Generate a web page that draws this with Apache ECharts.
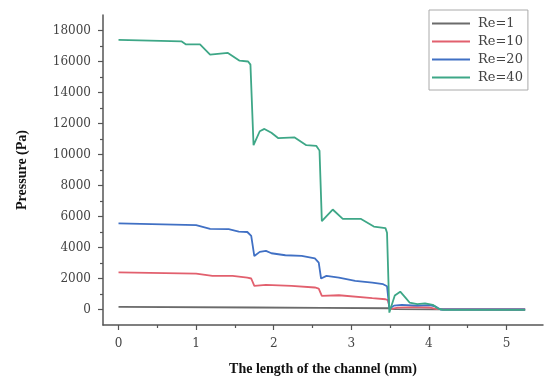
<!DOCTYPE html>
<html>
<head>
<meta charset="utf-8">
<script src="https://cdn.jsdelivr.net/npm/echarts@6/dist/echarts.min.js"></script>
<style>
  html, body { margin: 0; padding: 0; background: #fff; }
  #chart { width: 544px; height: 381px; }
</style>
</head>
<body>
<div id="chart"></div>
<script>
// Pressure along the channel for four Reynolds numbers
const seriesNames = ['Re=1', 'Re=10', 'Re=20', 'Re=40'];

// Re=1
const xRe1 = [0, 1.75, 2.62, 3.48, 3.55, 4.1, 5.24];
const pRe1 = [170, 130, 100, 80, 20, 10, 0];

// Re=10
const xRe10 = [0, 1.0, 1.21, 1.47, 1.66, 1.71, 1.75, 1.90, 2.23, 2.53, 2.58, 2.62, 2.84, 3.27, 3.44, 3.47, 3.50, 3.60, 3.80, 4.00, 4.10, 5.24];
const pRe10 = [2390, 2320, 2170, 2170, 2060, 2000, 1530, 1590, 1530, 1420, 1350, 880, 920, 730, 660, 600, 30, 120, 150, 130, 20, 0];

// Re=20
const xRe20 = [0, 1.0, 1.18, 1.42, 1.55, 1.66, 1.71, 1.75, 1.82, 1.90, 1.97, 2.15, 2.36, 2.53, 2.58, 2.61, 2.68, 2.84, 3.05, 3.27, 3.41, 3.46, 3.49, 3.55, 3.65, 3.85, 4.00, 4.08, 4.15, 5.24];
const pRe20 = [5550, 5450, 5200, 5180, 5030, 5000, 4750, 3450, 3720, 3780, 3630, 3500, 3460, 3300, 3030, 2000, 2170, 2060, 1850, 1740, 1630, 1500, 50, 250, 300, 250, 280, 200, 0, 0];

// Re=40
const xRe40 = [0, 0.81, 0.87, 1.05, 1.18, 1.41, 1.56, 1.67, 1.70, 1.74, 1.82, 1.88, 1.97, 2.06, 2.27, 2.42, 2.55, 2.59, 2.62, 2.76, 2.89, 3.12, 3.29, 3.44, 3.46, 3.49, 3.56, 3.63, 3.70, 3.75, 3.85, 3.95, 4.05, 4.12, 4.18, 5.24];
const pRe40 = [17400, 17300, 17100, 17100, 16450, 16550, 16050, 16000, 15800, 10600, 11500, 11650, 11400, 11050, 11100, 10600, 10550, 10250, 5700, 6450, 5850, 5850, 5350, 5250, 4950, -200, 900, 1150, 750, 450, 350, 400, 300, 50, -30, -30];

// Axis ticks
const xMajorTicks = [0, 1, 2, 3, 4, 5];
const xMinorTicks = [0.5, 1.5, 2.5, 3.5, 4.5];
const yMajorTicks = [0, 2000, 4000, 6000, 8000, 10000, 12000, 14000, 16000, 18000];
const yMinorTicks = [1000, 3000, 5000, 7000, 9000, 11000, 13000, 15000, 17000];

const colors = ['#6b6b6b', '#e2606e', '#4070c4', '#3ea787'];
const xs = [xRe1, xRe10, xRe20, xRe40];
const ps = [pRe1, pRe10, pRe20, pRe40];

const zip = (a, b) => a.map((v, i) => [v, b[i]]);

const serif = 'DejaVu Serif';
const titleFont = 'Liberation Serif';
const axisColor = '#555';
const plain = v => String(v);

const xRange = { min: -0.2, max: 5.47 };
const yRange = { min: -1000, max: 19000 };

const chart = echarts.init(document.getElementById('chart'));
chart.setOption({
  animation: false,
  backgroundColor: '#fff',
  color: colors,
  grid: { left: 103, right: 1, top: 15, bottom: 54, containLabel: false },
  legend: {
    data: seriesNames.map(name => ({ name, icon: 'rect' })),
    orient: 'vertical',
    left: 429,
    top: 10,
    padding: [6, 5, 5, 3],
    itemWidth: 38,
    itemHeight: 2,
    itemGap: 3,
    borderColor: '#aaa',
    borderWidth: 1,
    textStyle: { fontFamily: serif, fontSize: 13, color: '#444', padding: [0, 0, 0, 3], lineHeight: 15 }
  },
  xAxis: [
    {
      type: 'value', ...xRange,
      name: 'The length of the channel (mm)',
      nameLocation: 'middle',
      nameGap: 37,
      nameTextStyle: { fontFamily: titleFont, fontWeight: 'bold', fontSize: 14, color: '#111' },
      splitLine: { show: false },
      axisLine: { show: true, onZero: false, lineStyle: { color: axisColor, width: 1.5 } },
      axisTick: { show: true, inside: false, length: 5, customValues: xMajorTicks, lineStyle: { color: axisColor, width: 1.2 } },
      axisLabel: { customValues: xMajorTicks, formatter: plain, margin: 13, fontFamily: serif, fontSize: 12, color: '#444' }
    },
    {
      type: 'value', ...xRange,
      position: 'bottom',
      splitLine: { show: false },
      axisLine: { show: false, onZero: false },
      axisTick: { show: true, inside: false, length: 3, customValues: xMinorTicks, lineStyle: { color: axisColor, width: 1.2 } },
      axisLabel: { show: false }
    }
  ],
  yAxis: [
    {
      type: 'value', ...yRange,
      name: 'Pressure (Pa)',
      nameLocation: 'middle',
      nameGap: 74,
      nameTextStyle: { fontFamily: titleFont, fontWeight: 'bold', fontSize: 14, color: '#111' },
      splitLine: { show: false },
      axisLine: { show: true, onZero: false, lineStyle: { color: axisColor, width: 1.5 } },
      axisTick: { show: true, inside: false, length: 5, customValues: yMajorTicks, lineStyle: { color: axisColor, width: 1.2 } },
      axisLabel: { customValues: yMajorTicks, formatter: plain, margin: 12, fontFamily: serif, fontSize: 12, color: '#444' }
    },
    {
      type: 'value', ...yRange,
      position: 'left',
      splitLine: { show: false },
      axisLine: { show: false, onZero: false },
      axisTick: { show: true, inside: false, length: 3, customValues: yMinorTicks, lineStyle: { color: axisColor, width: 1.2 } },
      axisLabel: { show: false }
    }
  ],
  series: seriesNames.map((name, i) => ({
    name,
    type: 'line',
    xAxisIndex: 0,
    yAxisIndex: 0,
    data: zip(xs[i], ps[i]),
    symbol: 'none',
    smooth: false,
    lineStyle: { width: 1.8, color: colors[i] },
    itemStyle: { color: colors[i] },
    z: 2 + i
  }))
});
</script>
</body>
</html>
